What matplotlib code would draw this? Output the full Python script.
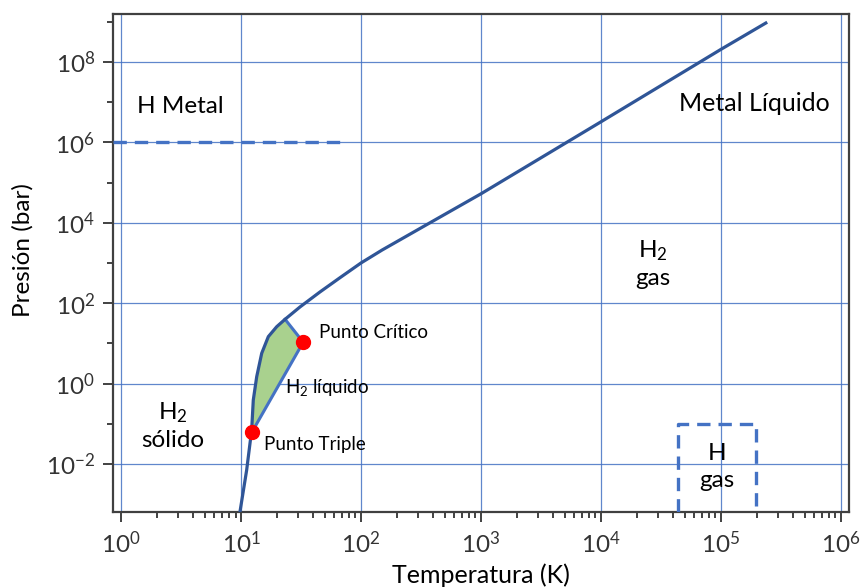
import matplotlib
matplotlib.use("Agg")
import matplotlib.pyplot as plt
from matplotlib.ticker import FixedLocator, NullFormatter
import numpy as np

plt.rcParams['font.family'] = ['Lato', 'DejaVu Sans']
plt.rcParams['mathtext.default'] = 'regular'

# boundary curve (solid / fluid)
curve_T = [9.8, 11.15, 12.27, 12.66, 13.52, 14.88, 16.89, 19.84, 23.3, 31.0, 45.5, 66.8,
           100, 150, 376, 1000, 1e4, 1.01e5, 2.37e5]
curve_p = [6.4e-4, 7.1e-3, 0.070, 0.391, 1.49, 5.68, 14.7, 26.0, 39.8, 80.4, 190, 430,
           1e3, 2.1e3, 1e4, 5.25e4, 3.24e6, 2.09e8, 9.3e8]

# liquid region: triple point -> critical point -> top of the liquid wedge
triple = (12.4, 0.064)
critical = (33.0, 10.7)
wedge_top = (23.3, 39.8)

metal_line_T = [0.857, 72]
metal_line_p = [1e6, 1e6]

hgas_T = [4.4e4, 4.4e4, 1.96e5, 1.96e5]
hgas_p = [6.4e-4, 0.098, 0.098, 6.4e-4]

xlim = (0.857, 1.17e6)
ylim = (6.4e-4, 1.56e9)

dark = '#2F5597'
light = '#4472C4'

fig = plt.figure(figsize=(8.61, 5.88), dpi=100)
ax = fig.add_axes([113/861, 1 - 512/588, (849-113)/861, (512-14)/588])
ax.set_xscale('log')
ax.set_yscale('log')
ax.set_xlim(*xlim)
ax.set_ylim(*ylim)

# green liquid region
T = np.array(curve_T)
P = np.array(curve_p)
seg = (T > triple[0]) & (T < wedge_top[0])
poly_T = [triple[0]] + list(T[seg]) + [wedge_top[0], critical[0], triple[0]]
poly_p = [triple[1]] + list(P[seg]) + [wedge_top[1], critical[1], triple[1]]
ax.fill(poly_T, poly_p, color='#A9D18E', zorder=2, lw=0)
ax.plot([wedge_top[0], critical[0], triple[0]], [wedge_top[1], critical[1], triple[1]],
        color=light, lw=2.2, zorder=3)

ax.plot(curve_T, curve_p, color=dark, lw=2.3, zorder=4, solid_joinstyle='round')

ax.plot(metal_line_T, metal_line_p, color=light, lw=2.4, ls=(0, (4, 2.4)), zorder=3)
ax.plot(hgas_T, hgas_p, color=light, lw=2.4, ls=(0, (4, 2.4)), zorder=3)

ax.plot(*triple, 'o', color='#FF0000', ms=10, zorder=5)
ax.plot(*critical, 'o', color='#FF0000', ms=10, zorder=5)

# ticks
ax.xaxis.set_major_locator(FixedLocator([10.0**k for k in range(0, 7)]))
ax.xaxis.set_minor_locator(FixedLocator([m * 10.0**k for k in range(0, 6) for m in range(2, 10)]))
ax.yaxis.set_major_locator(FixedLocator([10.0**k for k in range(-2, 9, 2)]))
ax.yaxis.set_minor_locator(FixedLocator([10.0**k for k in range(-1, 10, 2)]))
ax.xaxis.set_minor_formatter(NullFormatter())
ax.yaxis.set_minor_formatter(NullFormatter())
ax.tick_params(which='major', direction='out', length=7, width=1.3, color='#333333',
               labelsize=17.5, labelcolor='#333333', pad=6)
ax.tick_params(which='minor', direction='out', length=4.5, width=1.3, color='#333333')
ax.grid(True, which='major', color='#4472C4', lw=0.9, alpha=0.85)
ax.set_axisbelow(True)
for s in ax.spines.values():
    s.set_color('#404040')
    s.set_linewidth(1.6)

ax.set_xlabel('Temperatura (K)', fontsize=18, labelpad=5)
ax.set_ylabel('Presión (bar)', fontsize=17.5, labelpad=8)
ax.yaxis.set_label_coords(-0.108, 0.526)

# region labels
ax.text(1.36, 7.6e6, 'H Metal', fontsize=17.5, ha='left', va='center')
ax.text(8.1e5, 9.5e6, 'Metal Líquido', fontsize=18, ha='right', va='center')
ax.text(2.71e4, 945, 'H$_2$\ngas', fontsize=17.5, ha='center', va='center', linespacing=1.3)
ax.text(2.71, 0.089, 'H$_2$\nsólido', fontsize=17.5, ha='center', va='center', linespacing=1.3)
ax.text(9.3e4, 8.5e-3, 'H\ngas', fontsize=17.5, ha='center', va='center', linespacing=1.35)
ax.text(44.7, 19, 'Punto Crítico', fontsize=13.5, ha='left', va='center')
ax.text(23.3, 0.78, 'H$_2$ líquido', fontsize=13.5, ha='left', va='center')
ax.text(15.6, 0.03, 'Punto Triple', fontsize=13.5, ha='left', va='center')

fig.savefig('out.png', dpi=100)
